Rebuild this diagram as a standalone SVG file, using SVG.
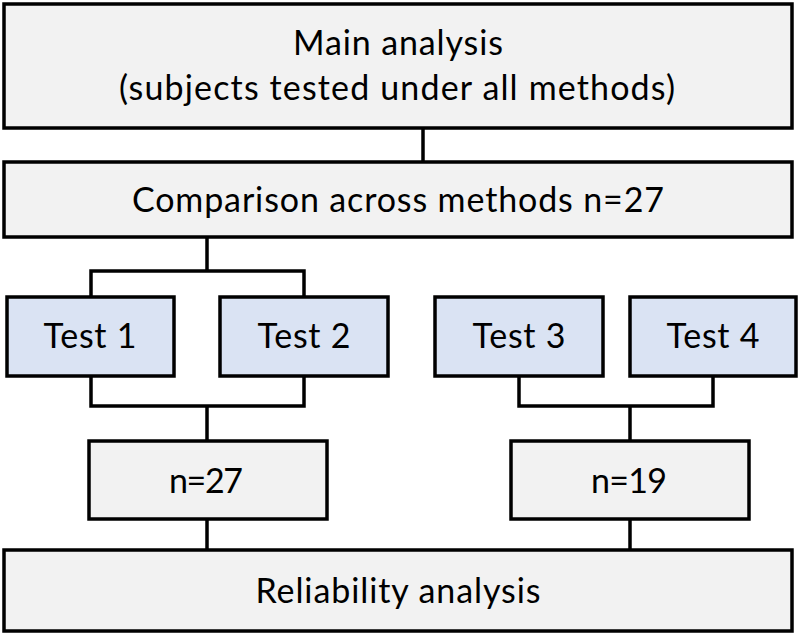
<svg xmlns="http://www.w3.org/2000/svg" width="800" height="634" viewBox="0 0 800 634">
<style>
.box{stroke:#000;stroke-width:3.5}
.gray{fill:#f2f2f2}
.blue{fill:#dae3f3}
.conn{fill:none;stroke:#000;stroke-width:3.5}
text{font-family:Lato,"Open Sans",sans-serif;font-size:34px;fill:#000;text-anchor:middle}
</style>
<rect width="800" height="634" fill="#fff"/>
<g id="connectors">
<path class="conn" d="M423 128V162"/>
<path class="conn" d="M207 237V271H91V297M207 271H304V297"/>
<path class="conn" d="M91 376V406H304V376M207 406V441"/>
<path class="conn" d="M519 376V406H713V376M630 406V441"/>
<path class="conn" d="M207 519V550M630 519V550"/>
</g>
<g id="main">
<rect class="box gray" x="4" y="4" width="788" height="124"/>
<text x="398" y="55" textLength="210">Main analysis</text>
<text x="397" y="100" textLength="556">(subjects tested under all methods)</text>
</g>
<g id="comparison">
<rect class="box gray" x="4" y="162" width="788" height="75"/>
<text x="398" y="212" textLength="532">Comparison across methods n=27</text>
</g>
<g id="test1">
<rect class="box blue" x="7" y="297" width="167" height="79"/>
<text x="90" y="348" textLength="93">Test 1</text>
</g>
<g id="test2">
<rect class="box blue" x="220" y="297" width="168" height="79"/>
<text x="304" y="348" textLength="93">Test 2</text>
</g>
<g id="test3">
<rect class="box blue" x="435" y="297" width="168" height="79"/>
<text x="519" y="348" textLength="93">Test 3</text>
</g>
<g id="test4">
<rect class="box blue" x="630" y="297" width="166" height="79"/>
<text x="713" y="348" textLength="93">Test 4</text>
</g>
<g id="n27">
<rect class="box gray" x="89" y="441" width="238" height="78"/>
<text x="206" y="493" textLength="74">n=27</text>
</g>
<g id="n19">
<rect class="box gray" x="511" y="441" width="238" height="78"/>
<text x="629" y="493" textLength="76">n=19</text>
</g>
<g id="reliability">
<rect class="box gray" x="4" y="550" width="788" height="81"/>
<text x="398" y="603" textLength="285">Reliability analysis</text>
</g>
</svg>
